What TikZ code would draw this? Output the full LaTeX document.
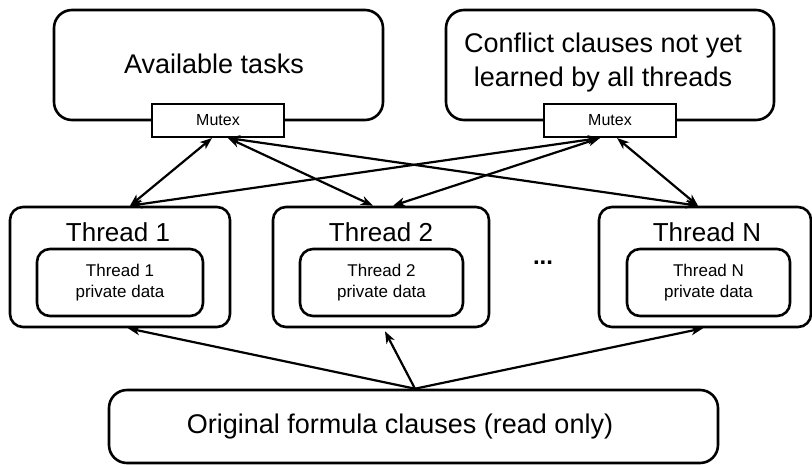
\documentclass[tikz,border=0pt]{standalone}
\usepackage{fontspec}
\setmainfont{Liberation Sans}
\usetikzlibrary{arrows.meta,positioning,calc}

\tikzset{
    store/.style={draw, line width=2.6pt, rounded corners=18pt},
    thread/.style={draw, line width=2.6pt, rounded corners=13pt},
    private/.style={draw, line width=2.6pt, rounded corners=13pt, align=center,
        font=\fontsize{17}{21}\selectfont},
    lock/.style={draw, line width=2pt, fill=white, minimum width=132pt,
        minimum height=33pt, font=\fontsize{16}{19}\selectfont},
    big/.style={font=\fontsize{27}{34}\selectfont, align=center},
    link/.style={line width=2.2pt, {Stealth[length=12pt,width=9pt,inset=3.5pt]}-{Stealth[length=12pt,width=9pt,inset=3.5pt]}},
    feed/.style={line width=2.2pt, -{Stealth[length=12pt,width=9pt,inset=3.5pt]}}
}

\begin{document}
\begin{tikzpicture}[x=1pt, y=-1pt]
    \useasboundingbox (0, 0) rectangle (812, 464);
    % Shared stores
    \node[store, minimum width=329pt, minimum height=110pt] (tasks) at (218.5, 65) {};
    \node[big] (taskstext) at (214, 64) {Available tasks};
    \node[store, minimum width=328pt, minimum height=110pt] (learnt) at (610, 65) {};
    \node[big] (learnttext) at (603, 63) {Conflict clauses not yet\\learned by all threads};
    % Mutexes
    \node[lock] (mutexA) at (218, 120.5) {Mutex};
    \node[lock] (mutexB) at (610, 120.5) {Mutex};
    % Threads
    \node[thread, minimum width=220pt, minimum height=120pt] (t1) at (120, 267) {};
    \node[thread, minimum width=216pt, minimum height=120pt] (t2) at (381, 267) {};
    \node[thread, minimum width=212pt, minimum height=120pt] (tn) at (705, 267) {};
    \node[font=\fontsize{26}{30}\selectfont] (t1title) at (118, 232) {Thread 1};
    \node[font=\fontsize{26}{30}\selectfont] (t2title) at (381, 232) {Thread 2};
    \node[font=\fontsize{26}{30}\selectfont] (tntitle) at (707, 232) {Thread N};
    \node[private, minimum width=166pt, minimum height=67pt] (p1) at (120, 282.5) {Thread 1\\private data};
    \node[private, minimum width=163pt, minimum height=67pt] (p2) at (381.5, 282.5) {Thread 2\\private data};
    \node[private, minimum width=163pt, minimum height=67pt] (pn) at (708.5, 282.5) {Thread N\\private data};
    \node[font=\fontsize{24}{28}\bfseries] (dots) at (543, 263) {...};
    % Original clauses
    \node[store, minimum width=609pt, minimum height=73pt] (orig) at (413.5, 426.5) {};
    \node[big] (origtext) at (400, 427) {Original formula clauses (read only)};
    % Mutex links
    \draw[link] ([xshift=-6pt]mutexA.south) -- ([xshift=10pt]t1.north);
    \draw[link] ([xshift=10pt]mutexA.south) -- ([xshift=-8pt]t2.north);
    \draw[link] ([xshift=10pt]mutexA.south) -- ([xshift=-7pt]tn.north);
    \draw[link] ([xshift=-10pt]mutexB.south) -- ([xshift=10pt]t1.north);
    \draw[link] ([xshift=-10pt]mutexB.south) -- ([xshift=12pt]t2.north);
    \draw[link] ([xshift=7pt]mutexB.south) -- ([xshift=-7pt]tn.north);
    % Reads
    \draw[feed] ([xshift=1.5pt]orig.north) -- ([xshift=8pt]t1.south);
    \draw[feed] ([xshift=1.5pt]orig.north) -- ([xshift=4pt,yshift=-3pt]t2.south);
    \draw[feed] ([xshift=1.5pt]orig.north) -- ([xshift=-2pt]tn.south);
\end{tikzpicture}
\end{document}
